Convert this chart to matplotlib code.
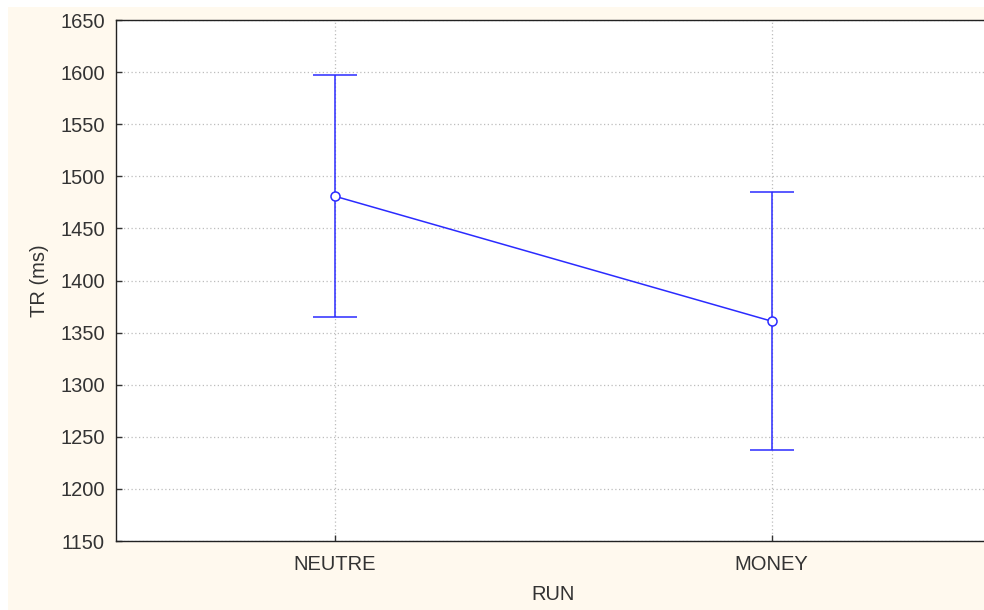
import matplotlib
matplotlib.use("Agg")
import matplotlib.pyplot as plt
from matplotlib.patches import Rectangle

categories = ["NEUTRE", "MONEY"]
means = [1481, 1361]
upper = [1597, 1485]
lower = [1365, 1237]
yticks = [1150, 1200, 1250, 1300, 1350, 1400, 1450, 1500, 1550, 1600, 1650]

plt.rcParams['font.family'] = ['Liberation Sans', 'DejaVu Sans']

W, H = 984, 610
fig = plt.figure(figsize=(W / 100, H / 100), dpi=100, facecolor='white')
cream = '#FFF9EE'
fig.patches.append(Rectangle((8 / W, 0), 1 - 8 / W, 1 - 7 / H, transform=fig.transFigure,
                             facecolor=cream, edgecolor='none', zorder=-5))

ax = fig.add_axes([116 / W, 1 - 541 / H, (990 - 116) / W, (541 - 20) / H])
ax.set_zorder(1)
ax.set_facecolor('white')

x = list(range(len(categories)))
yerr = [[m - l for m, l in zip(means, lower)], [u - m for u, m in zip(upper, means)]]
blue = '#2B2BFF'
ax.errorbar(x, means, yerr=yerr, color=blue, lw=1.1, elinewidth=1.1, capsize=16, capthick=1.1,
            marker='o', markersize=6.5, markerfacecolor='white', markeredgecolor=blue,
            markeredgewidth=1.1, zorder=3)

ax.set_xlim(-0.5, 1.5)
ax.set_ylim(1150, 1650)
ax.set_xticks(x)
ax.set_xticklabels(categories)
ax.set_yticks(yticks)
ax.tick_params(direction='in', length=4, width=1, labelsize=14.5, colors='#333333', pad=8)
ax.tick_params(axis='x', pad=10)
ax.grid(True, color='#BDBDBD', linestyle=(0, (1, 2)), linewidth=0.9)
ax.set_axisbelow(True)

for s in ['top', 'left', 'bottom']:
    ax.spines[s].set_color('#222222')
    ax.spines[s].set_linewidth(1)
ax.spines['right'].set_visible(False)

ax.set_xlabel('RUN', fontsize=14.5, color='#333333', labelpad=8)
ax.set_ylabel('TR (ms)', fontsize=14.5, color='#333333', labelpad=8)

fig.savefig('out.png', dpi=100, facecolor=fig.get_facecolor())
